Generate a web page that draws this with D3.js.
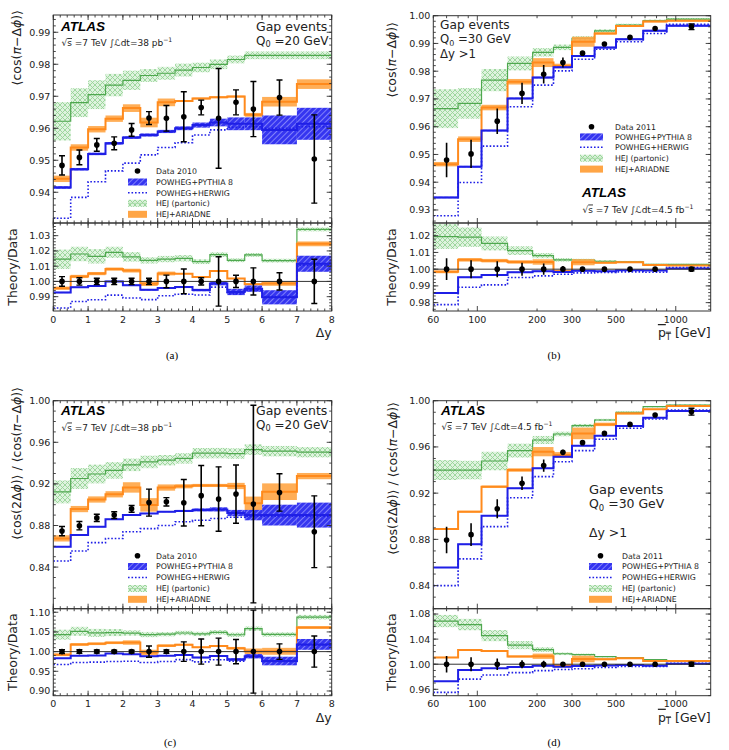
<!DOCTYPE html>
<html>
<head>
<meta charset="utf-8">
<script src="https://cdn.jsdelivr.net/npm/d3@7"></script>
<style>
  body { margin: 0; background: #fff; }
  text { font-family: "DejaVu Sans", sans-serif; fill: #222; }
  text.atlas { font-family: "Liberation Sans", Arial, sans-serif; font-weight: bold; font-style: italic; fill: #000; }
  text.caption { font-family: "Liberation Serif", "Times New Roman", serif; fill: #000; }
</style>
</head>
<body>
<script>
// bins
var dyEdges = [0, 0.5, 1, 1.5, 2, 2.5, 3, 3.5, 4, 4.5, 5, 5.5, 6, 7, 8];
var dyCenters = [0.25, 0.75, 1.25, 1.75, 2.25, 2.75, 3.25, 3.75, 4.25, 4.75, 5.25, 5.75, 6.5, 7.5];
var ptEdges = [60, 80, 105, 142, 190, 242, 300, 390, 500, 685, 900, 1500];
var ptCenters = [70, 93, 126, 168, 216, 270, 339, 437, 588, 787, 1200];

// tick labels
var dyTicks = [0, 1, 2, 3, 4, 5, 6, 7, 8];
var ptTickLabels = [60, 100, 200, 300, 500, 1000];
var ptMajor = [100, 1000];
var ptMinor = [60, 70, 80, 90, 200, 300, 400, 500, 600, 700, 800, 900];
var mainTicksA = [0.94, 0.95, 0.96, 0.97, 0.98, 0.99];
var ratioTicksA = [0.99, 1.00, 1.01, 1.02, 1.03];
var mainTicksB = [0.93, 0.94, 0.95, 0.96, 0.97, 0.98, 0.99, 1.00];
var ratioTicksB = [0.98, 0.99, 1.00, 1.01, 1.02];
var mainTicksC = [0.84, 0.88, 0.92, 0.96, 1.00];
var ratioTicksC = [0.90, 0.95, 1.00, 1.05, 1.10];
var mainTicksD = [0.84, 0.88, 0.92, 0.96, 1.00];
var ratioTicksD = [0.96, 1.00, 1.04, 1.08];

// (a) <cos(pi - dphi)> vs dy, 2010
var dataA = [0.9484, 0.9509, 0.9548, 0.9553, 0.9595, 0.9632, 0.9631, 0.9636, 0.9665, 0.9631, 0.9681, 0.9660, 0.9696, 0.9504];
var errA = [0.003, 0.0023, 0.002, 0.002, 0.002, 0.002, 0.004, 0.0078, 0.0023, 0.0156, 0.0039, 0.0086, 0.0055, 0.0138];
var pythiaA = [0.9415, 0.9472, 0.9520, 0.9553, 0.9571, 0.9579, 0.9590, 0.9600, 0.9610, 0.9618, 0.9614, 0.9614, 0.9595, 0.9614];
var pythiaBandA = [0.0004, 0.0004, 0.0004, 0.0004, 0.0004, 0.0005, 0.0005, 0.0006, 0.0008, 0.0012, 0.002, 0.002, 0.0045, 0.005];
var herwigA = [0.9319, 0.9384, 0.9433, 0.9467, 0.9491, 0.9517, 0.9540, 0.9555, 0.9579, 0.9595, 0.9603, 0.9605, 0.9600, 0.9605];
var hejA = [0.9622, 0.9680, 0.9705, 0.9735, 0.9750, 0.9765, 0.9772, 0.9782, 0.9790, 0.9800, 0.9815, 0.9828, 0.9828, 0.9828];
var hejBandA = [0.006, 0.0045, 0.0045, 0.0035, 0.003, 0.002, 0.002, 0.002, 0.0015, 0.0015, 0.0012, 0.0012, 0.0012, 0.0012];
var ariA = [0.9442, 0.9540, 0.9597, 0.9630, 0.9663, 0.9618, 0.9681, 0.9685, 0.9693, 0.9697, 0.9699, 0.9642, 0.9683, 0.9738];
var ariBandA = [0.001, 0.001, 0.001, 0.001, 0.0012, 0.0015, 0.0012, 0.0003, 0.0003, 0.0003, 0.0003, 0.0006, 0.0015, 0.0015];

// (b) <cos(pi - dphi)> vs mean pT, 2011
var dataB = [0.9480, 0.9502, 0.9620, 0.9720, 0.9789, 0.9831, 0.9865, 0.9898, 0.9922, 0.9954, 0.9960];
var errB = [0.0062, 0.0051, 0.0046, 0.0038, 0.0033, 0.0018, 0.0008, 0.0006, 0.0005, 0.0004, 0.001];
var pythiaB = [0.9345, 0.9456, 0.9586, 0.9702, 0.9777, 0.9814, 0.9855, 0.9885, 0.9915, 0.9946, 0.9964];
var pythiaBandB = [0.0003, 0.0003, 0.0003, 0.0003, 0.0003, 0.0003, 0.0003, 0.0003, 0.0003, 0.0003, 0.0003];
var herwigB = [0.9279, 0.9399, 0.9530, 0.9672, 0.9750, 0.9801, 0.9843, 0.9879, 0.9906, 0.9936, 0.9969];
var hejB = [0.9665, 0.9684, 0.9768, 0.9828, 0.9868, 0.9886, 0.9918, 0.9945, 0.9966, 0.9982, 0.9988];
var hejBandB = [0.007, 0.0055, 0.004, 0.0025, 0.0015, 0.001, 0.0008, 0.0006, 0.0005, 0.0004, 0.0004];
var ariB = [0.9465, 0.9555, 0.9669, 0.9762, 0.9831, 0.9819, 0.9906, 0.9936, 0.9963, 0.9979, 0.9982];
var ariBandB = [0.0008, 0.001, 0.001, 0.001, 0.0016, 0.0008, 0.0018, 0.0004, 0.0003, 0.0003, 0.0003];

// (c) <cos(2dphi)>/<cos(pi - dphi)> vs dy, 2010
var dataC = [0.8746, 0.8798, 0.8873, 0.8900, 0.8960, 0.9020, 0.9028, 0.9019, 0.9087, 0.9054, 0.9102, 0.9006, 0.9118, 0.8740];
var errC = [0.0045, 0.004, 0.0035, 0.0032, 0.0032, 0.013, 0.004, 0.0224, 0.029, 0.031, 0.028, 0.095, 0.018, 0.0345];
var pythiaC = [0.8596, 0.8708, 0.8788, 0.8859, 0.8900, 0.8916, 0.8932, 0.8940, 0.8950, 0.8955, 0.8920, 0.8900, 0.8900, 0.8900];
var pythiaBandC = [0.0005, 0.0005, 0.0005, 0.0005, 0.0005, 0.0005, 0.0005, 0.001, 0.0015, 0.002, 0.003, 0.005, 0.010, 0.012];
var herwigC = [0.8458, 0.8555, 0.8635, 0.8675, 0.8740, 0.8770, 0.8800, 0.8836, 0.8850, 0.8868, 0.8880, 0.8890, 0.8890, 0.8890];
var hejC = [0.9123, 0.9252, 0.9295, 0.9330, 0.9383, 0.9411, 0.9428, 0.9445, 0.9495, 0.9496, 0.9492, 0.9530, 0.9515, 0.9505];
var hejBandC = [0.011, 0.010, 0.009, 0.008, 0.006, 0.006, 0.005, 0.005, 0.005, 0.005, 0.005, 0.005, 0.005, 0.005];
var ariC = [0.8676, 0.8958, 0.9050, 0.9100, 0.9166, 0.8998, 0.9165, 0.9177, 0.9185, 0.9185, 0.9180, 0.9013, 0.9125, 0.9275];
var ariBandC = [0.003, 0.003, 0.003, 0.003, 0.005, 0.0065, 0.003, 0.002, 0.0015, 0.0015, 0.003, 0.0065, 0.008, 0.003];

// (d) <cos(2dphi)>/<cos(pi - dphi)> vs mean pT, 2011
var dataD = [0.8795, 0.8841, 0.9065, 0.9285, 0.9439, 0.9553, 0.9637, 0.9717, 0.9795, 0.9876, 0.9905];
var errD = [0.0115, 0.0098, 0.0082, 0.0058, 0.0053, 0.0022, 0.0012, 0.001, 0.001, 0.001, 0.003];
var pythiaD = [0.8556, 0.8758, 0.9005, 0.9242, 0.9415, 0.9516, 0.9611, 0.9697, 0.9781, 0.9853, 0.9911];
var pythiaBandD = [0.0004, 0.0004, 0.0004, 0.0004, 0.0004, 0.0004, 0.0004, 0.0004, 0.0004, 0.0004, 0.0004];
var herwigD = [0.8400, 0.8631, 0.8910, 0.9160, 0.9343, 0.9472, 0.9568, 0.9666, 0.9761, 0.9841, 0.9919];
var hejD = [0.9400, 0.9400, 0.9478, 0.9568, 0.9660, 0.9712, 0.9784, 0.9833, 0.9899, 0.9948, 0.9963];
var hejBandD = [0.0086, 0.008, 0.008, 0.006, 0.0035, 0.002, 0.0015, 0.001, 0.0008, 0.0006, 0.0005];
var ariD = [0.8890, 0.9040, 0.9256, 0.9400, 0.9559, 0.9530, 0.9717, 0.9795, 0.9890, 0.9925, 0.9954];
var ariBandD = [0.0008, 0.0008, 0.001, 0.0015, 0.004, 0.0025, 0.005, 0.0015, 0.0008, 0.0005, 0.0005];

var legendNames = ["POWHEG+PYTHIA 8", "POWHEG+HERWIG", "HEJ (partonic)", "HEJ+ARIADNE"];

var blue = "#1f1fe6", green = "#4fa84f", orange = "#ff8a1c", orangeBand = "#ffa545";

var svg = d3.select("body").append("svg")
  .attr("width", 729)
  .attr("height", 750);

var defs = svg.append("defs");

var hatch = defs.append("pattern")
  .attr("id", "hatch")
  .attr("patternUnits", "userSpaceOnUse")
  .attr("width", 4).attr("height", 4)
  .attr("patternTransform", "rotate(45)");
hatch.append("rect").attr("width", 4).attr("height", 4).attr("fill", "#3535f0");
hatch.append("line").attr("x1", 0).attr("y1", 0).attr("x2", 0).attr("y2", 4)
  .attr("stroke", "#a0a0ff").attr("stroke-width", 1.4);

var cross = defs.append("pattern")
  .attr("id", "cross")
  .attr("patternUnits", "userSpaceOnUse")
  .attr("width", 5).attr("height", 5);
cross.append("rect").attr("width", 5).attr("height", 5).attr("fill", "#dcf2dc");
cross.append("path").attr("d", "M0,0L5,5M5,0L0,5")
  .attr("stroke", "#93d193").attr("stroke-width", 0.9);

// rich text: segments with sub/sup/italic/overline
function rich(g, x, y, segs, size, anchor) {
  var t = g.append("text")
    .attr("x", x).attr("y", y)
    .attr("font-size", size)
    .attr("text-anchor", anchor || "start");
  var shift = 0;
  segs.forEach(function(s) {
    var target = s.sub ? size * 0.22 : (s.sup ? -size * 0.42 : 0);
    var ts = t.append("tspan").text(s.t).attr("dy", target - shift);
    if (s.sub || s.sup) ts.attr("font-size", size * 0.68);
    if (s.it) ts.attr("font-style", "italic");
    if (s.over) ts.style("text-decoration", "overline");
    shift = target;
  });
  return t;
}

function drawPanel(p) {
  var x = (p.log ? d3.scaleLog() : d3.scaleLinear())
    .domain(d3.extent(p.edges))
    .range([p.left, p.right]);
  var yM = d3.scaleLinear().domain(p.yMain).range([p.mid, p.top]);
  var yR = d3.scaleLinear().domain(p.yRatio).range([p.bottom, p.mid]);

  var div = function(arr) { return arr.map(function(v, i) { return v / p.data[i]; }); };
  var main = { data: p.data, err: p.err, pythia: p.pythia, pythiaBand: p.pythiaBand,
    herwig: p.herwig, hej: p.hej, hejBand: p.hejBand, ari: p.ari, ariBand: p.ariBand };
  var ratio = { data: p.data.map(function() { return 1; }), err: div(p.err),
    pythia: div(p.pythia), pythiaBand: div(p.pythiaBand), herwig: div(p.herwig),
    hej: div(p.hej), hejBand: div(p.hejBand), ari: div(p.ari), ariBand: div(p.ariBand) };

  plotArea(p, x, yM, p.top, p.mid, main, false);
  plotArea(p, x, yR, p.mid, p.bottom, ratio, true);

  frame(p, x, yM, p.top, p.mid, p.mainTicks, p.mainMinor, false);
  frame(p, x, yR, p.mid, p.bottom, p.ratioTicks, p.ratioMinor, true);

  // y labels
  var gy = svg.append("g").attr("transform", "translate(" + p.ylabX + "," + p.ylabTop + ") rotate(-90)");
  rich(gy, 0, 0, p.ylab, 12.5, "end");
  var gr = svg.append("g").attr("transform", "translate(" + p.ylabX2 + "," + ((p.mid + p.bottom) / 2) + ") rotate(-90)");
  rich(gr, 0, 0, [{ t: "Theory/Data" }], 12.5, "middle");

  // x label
  rich(svg, p.right, p.bottom + 26, p.xlab, 12.5, "end");

  legend(p);
}

function plotArea(p, x, y, y0, y1, s, isRatio) {
  var id = "clip" + p.id + (isRatio ? "r" : "m");
  defs.append("clipPath").attr("id", id).append("rect")
    .attr("x", p.left).attr("y", y0)
    .attr("width", p.right - p.left).attr("height", y1 - y0);
  var g = svg.append("g").attr("clip-path", "url(#" + id + ")");
  var n = p.edges.length - 1;
  var bins = d3.range(n);

  function band(vals, errs, fill, op) {
    g.append("g").selectAll("rect")
      .data(bins)
      .enter().append("rect")
      .attr("x", function(i) { return x(p.edges[i]); })
      .attr("width", function(i) { return x(p.edges[i + 1]) - x(p.edges[i]); })
      .attr("y", function(i) { return y(vals[i] + errs[i]); })
      .attr("height", function(i) { return y(vals[i] - errs[i]) - y(vals[i] + errs[i]); })
      .attr("fill", fill)
      .attr("opacity", op);
  }
  var step = d3.line()
    .curve(d3.curveStepAfter)
    .x(function(d) { return x(d[0]); })
    .y(function(d) { return y(d[1]); });
  function line(vals, color, w, dash) {
    var pts = bins.map(function(i) { return [p.edges[i], vals[i]]; });
    pts.push([p.edges[n], vals[n - 1]]);
    g.append("path")
      .attr("d", step(pts))
      .attr("fill", "none")
      .attr("stroke", color)
      .attr("stroke-width", w)
      .attr("stroke-dasharray", dash || null);
  }

  band(s.hej, s.hejBand, "url(#cross)", 0.95);
  line(s.hej, green, 1.2);
  band(s.ari, s.ariBand, orangeBand, 0.9);
  line(s.ari, orange, 2);
  band(s.pythia, s.pythiaBand, "url(#hatch)", 1);
  line(s.pythia, blue, 2);
  line(s.herwig, blue, 1.6, "1.6,1.9");

  if (isRatio) {
    g.append("line")
      .attr("x1", p.left).attr("x2", p.right)
      .attr("y1", y(1)).attr("y2", y(1))
      .attr("stroke", "#333").attr("stroke-width", 1);
  }

  // data points
  var pts = g.append("g");
  p.centers.forEach(function(c, i) {
    var cx = x(c);
    var lo = y(s.data[i] - s.err[i]), hi = y(s.data[i] + s.err[i]);
    pts.append("line")
      .attr("x1", cx).attr("x2", cx).attr("y1", lo).attr("y2", hi)
      .attr("stroke", "#000").attr("stroke-width", 1.6);
    if (p.caps || i === p.centers.length - 1) {
      [lo, hi].forEach(function(yy) {
        pts.append("line")
          .attr("x1", cx - 3).attr("x2", cx + 3).attr("y1", yy).attr("y2", yy)
          .attr("stroke", "#000").attr("stroke-width", 1.4);
      });
    }
    pts.append("circle")
      .attr("cx", cx).attr("cy", y(s.data[i]))
      .attr("r", 2.8).attr("fill", "#000");
  });
}

function frame(p, x, y, y0, y1, yTicks, yMinor, xLabels) {
  var g = svg.append("g");
  var dom = y.domain();
  var tk = function(x1, y1_, x2, y2) {
    g.append("line").attr("x1", x1).attr("y1", y1_).attr("x2", x2).attr("y2", y2)
      .attr("stroke", "#333").attr("stroke-width", 0.9);
  };

  // y major / minor
  yTicks.forEach(function(v) {
    var yy = y(v);
    tk(p.left, yy, p.left + 5, yy);
    tk(p.right, yy, p.right - 5, yy);
    g.append("text")
      .attr("x", p.left - 3).attr("y", yy + 3.4)
      .attr("text-anchor", "end").attr("font-size", 9.5)
      .text(d3.format(".2f")(v));
  });
  var m0 = Math.ceil(dom[0] / yMinor - 1e-6);
  for (var k = m0; k * yMinor <= dom[1] + 1e-9; k++) {
    var yy = y(k * yMinor);
    tk(p.left, yy, p.left + 2.5, yy);
    tk(p.right, yy, p.right - 2.5, yy);
  }

  // x major / minor
  var major = p.log ? ptMajor : dyTicks;
  var minor = p.log ? ptMinor : d3.range(0, 8.001, 0.2);
  major.forEach(function(v) {
    tk(x(v), y0, x(v), y0 + 5);
    tk(x(v), y1, x(v), y1 - 5);
  });
  minor.forEach(function(v) {
    tk(x(v), y0, x(v), y0 + 2.5);
    tk(x(v), y1, x(v), y1 - 2.5);
  });
  if (xLabels) {
    var labs = p.log ? ptTickLabels : dyTicks;
    labs.forEach(function(v) {
      g.append("text")
        .attr("x", x(v)).attr("y", y1 + 11.5)
        .attr("text-anchor", "middle").attr("font-size", 9.5)
        .text(v);
    });
  }

  g.append("rect")
    .attr("x", p.left).attr("y", y0)
    .attr("width", p.right - p.left).attr("height", y1 - y0)
    .attr("fill", "none").attr("stroke", "#333").attr("stroke-width", 1);
}

function legend(p) {
  var g = svg.append("g");
  var L = p.leg, w = L.x1 - L.x0, xm = (L.x0 + L.x1) / 2;
  var rows = L.rows;
  g.append("circle").attr("cx", xm).attr("cy", rows[0]).attr("r", 2.8).attr("fill", "#000");
  g.append("rect").attr("x", L.x0).attr("y", rows[1] - 3.5).attr("width", w).attr("height", 7)
    .attr("fill", "url(#hatch)");
  g.append("line").attr("x1", L.x0).attr("x2", L.x1).attr("y1", rows[2]).attr("y2", rows[2])
    .attr("stroke", blue).attr("stroke-width", 1.6).attr("stroke-dasharray", "1.6,1.9");
  g.append("rect").attr("x", L.x0).attr("y", rows[3] - 3.5).attr("width", w).attr("height", 7)
    .attr("fill", "url(#cross)");
  g.append("line").attr("x1", L.x0).attr("x2", L.x1).attr("y1", rows[3]).attr("y2", rows[3])
    .attr("stroke", "#a9dba9").attr("stroke-width", 1);
  g.append("rect").attr("x", L.x0).attr("y", rows[4] - 3.5).attr("width", w).attr("height", 7)
    .attr("fill", orangeBand);
  var names = [p.dataName].concat(legendNames);
  names.forEach(function(nm, i) {
    g.append("text").attr("x", L.tx).attr("y", rows[i] + 2.8)
      .attr("font-size", 7.8).text(nm);
  });
}

function atlas(x, y, lumi) {
  svg.append("text")
    .attr("class", "atlas")
    .attr("x", x).attr("y", y)
    .attr("font-size", 13.5)
    .text("ATLAS");
  rich(svg, x + 0.5, y + 15.5, [
    { t: "√" }, { t: "s", over: true }, { t: " =7 TeV  " }, { t: "∫" }, { t: "ℒ", it: true },
    { t: "dt=" + lumi[0] + " " + lumi[1] }, { t: "−1", sup: true }
  ], 9);
}

function gap(x, y, q0, dy, size, lineGap) {
  rich(svg, x, y, [{ t: "Gap events" }], size);
  rich(svg, x, y + lineGap, [{ t: "Q" }, { t: "0", sub: true }, { t: " =" + q0 + " GeV" }], size * 0.96);
  if (dy) rich(svg, x, y + dy, [{ t: "Δy >1" }], size * 0.96);
}

var ylabCos = [{ t: "⟨cos(" }, { t: "π", it: true }, { t: "−Δ" }, { t: "ϕ", it: true }, { t: ")⟩" }];
var ylabRatio = [{ t: "⟨cos(2Δ" }, { t: "ϕ", it: true }, { t: ")⟩ / ⟨cos(" }, { t: "π", it: true },
  { t: "−Δ" }, { t: "ϕ", it: true }, { t: ")⟩" }];
var xlabDy = [{ t: "Δy" }];
var xlabPt = [{ t: "p", over: true }, { t: "T", sub: true, over: true }, { t: " " }, { t: "[GeV]" }];

drawPanel({ id: "a", left: 53.3, right: 331.7, top: 15, mid: 223, bottom: 311,
  log: false, edges: dyEdges, centers: dyCenters, caps: true,
  yMain: [0.9304, 0.9954], yRatio: [0.9806, 1.0383],
  mainTicks: mainTicksA, mainMinor: 0.002, ratioTicks: ratioTicksA, ratioMinor: 0.002,
  data: dataA, err: errA, pythia: pythiaA, pythiaBand: pythiaBandA, herwig: herwigA,
  hej: hejA, hejBand: hejBandA, ari: ariA, ariBand: ariBandA,
  ylab: ylabCos, ylabX: 21, ylabTop: 10, ylabX2: 17, xlab: xlabDy,
  dataName: "Data 2010", leg: { x0: 128, x1: 147, tx: 156, rows: [171, 182, 192.7, 203.3, 214.3] } });

drawPanel({ id: "b", left: 433.3, right: 710.7, top: 15.7, mid: 223, bottom: 311,
  log: true, edges: ptEdges, centers: ptCenters, caps: false,
  yMain: [0.9253, 1.0], yRatio: [0.975, 1.0276],
  mainTicks: mainTicksB, mainMinor: 0.002, ratioTicks: ratioTicksB, ratioMinor: 0.002,
  data: dataB, err: errB, pythia: pythiaB, pythiaBand: pythiaBandB, herwig: herwigB,
  hej: hejB, hejBand: hejBandB, ari: ariB, ariBand: ariBandB,
  ylab: ylabCos, ylabX: 396, ylabTop: 22, ylabX2: 396, xlab: xlabPt,
  dataName: "Data 2011", leg: { x0: 580, x1: 603, tx: 615, rows: [126.7, 136.9, 147.3, 158.2, 169.1] } });

drawPanel({ id: "c", left: 53.3, right: 331.7, top: 400.7, mid: 608.7, bottom: 695.7,
  log: false, edges: dyEdges, centers: dyCenters, caps: true,
  yMain: [0.80, 1.00], yRatio: [0.888, 1.109],
  mainTicks: mainTicksC, mainMinor: 0.01, ratioTicks: ratioTicksC, ratioMinor: 0.01,
  data: dataC, err: errC, pythia: pythiaC, pythiaBand: pythiaBandC, herwig: herwigC,
  hej: hejC, hejBand: hejBandC, ari: ariC, ariBand: ariBandC,
  ylab: ylabRatio, ylabX: 21, ylabTop: 387, ylabX2: 17, xlab: xlabDy,
  dataName: "Data 2010", leg: { x0: 128, x1: 147, tx: 156, rows: [555.7, 566.5, 577.5, 588.5, 599.3] } });

drawPanel({ id: "d", left: 433.3, right: 710.7, top: 400.7, mid: 608.7, bottom: 695.7,
  log: true, edges: ptEdges, centers: ptCenters, caps: false,
  yMain: [0.82, 1.00], yRatio: [0.9498, 1.0885],
  mainTicks: mainTicksD, mainMinor: 0.01, ratioTicks: ratioTicksD, ratioMinor: 0.01,
  data: dataD, err: errD, pythia: pythiaD, pythiaBand: pythiaBandD, herwig: herwigD,
  hej: hejD, hejBand: hejBandD, ari: ariD, ariBand: ariBandD,
  ylab: ylabRatio, ylabX: 397, ylabTop: 402, ylabX2: 396, xlab: xlabPt,
  dataName: "Data 2011", leg: { x0: 589, x1: 612, tx: 622, rows: [555.7, 566.5, 577.5, 588.5, 599.3] } });

// annotations
atlas(61, 30.5, ["38", "pb"]);
gap(256, 30.5, 20, null, 12.5, 14);
gap(440, 29, 30, 29, 12.2, 14);
atlas(582, 197, ["4.5", "fb"]);
atlas(61, 415, ["38", "pb"]);
gap(256, 414.5, 20, null, 12.5, 14);
atlas(441, 414.5, ["4.5", "fb"]);
gap(589, 493.5, 30, 43.5, 13, 14.5);

// captions
[["(a)", 172, 359], ["(b)", 554, 359], ["(c)", 170, 746], ["(d)", 554, 746]].forEach(function(c) {
  svg.append("text")
    .attr("class", "caption")
    .attr("x", c[1]).attr("y", c[2])
    .attr("text-anchor", "middle")
    .attr("font-size", 11)
    .text(c[0]);
});
</script>
</body>
</html>
